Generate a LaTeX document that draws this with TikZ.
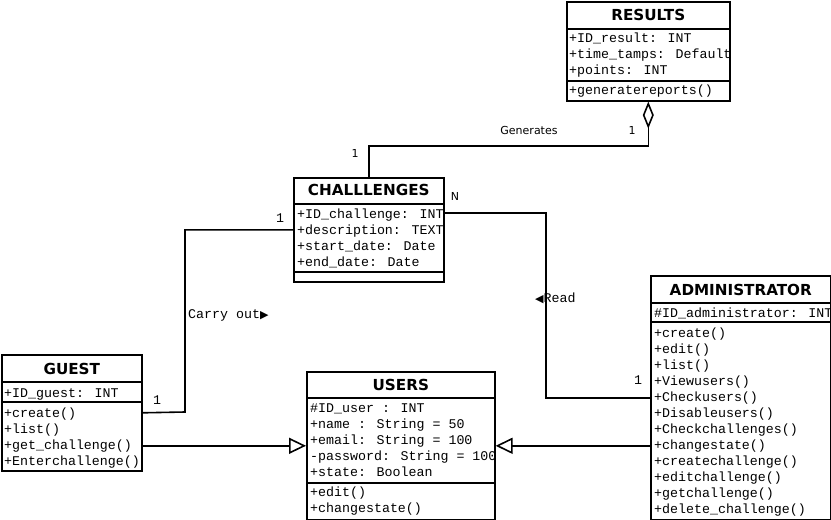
\documentclass[tikz,border=0pt]{standalone}
\usepackage{fontspec}
\setmainfont{DejaVu Sans}
\newfontfamily\monof{Liberation Mono}
\newfontfamily\symf{DejaVu Sans}
\usetikzlibrary{arrows.meta}
\begin{document}
\begin{tikzpicture}[x=1pt,y=-1pt,
  box/.style={draw,line width=1.6pt,fill=white,inner sep=0pt,anchor=north west},
  sep/.style={line width=1.6pt},
  attr/.style={anchor=base west,inner sep=0pt,font=\monof\fontsize{13.3}{16}\selectfont},
  ttl/.style={inner sep=0pt,font=\bfseries\fontsize{15.2}{18}\selectfont},
  lbl/.style={inner sep=0pt,font=\fontsize{11}{13}\selectfont},
  mlbl/.style={inner sep=0pt,font=\monof\fontsize{13.3}{16}\selectfont},
  conn/.style={line width=1.6pt},
  agg/.style={conn,-{Diamond[open,length=27pt,width=11pt]}},
  inh/.style={conn,-{Triangle[open,length=17pt,width=16pt]}},
]
\useasboundingbox (0,0) rectangle (831,520);
\fill[white] (0,0) rectangle (831,520);

% ---------- RESULTS ----------
\node[box,minimum width=163pt,minimum height=99pt] (results) at (566,1) {};
\draw[sep] (results.west |- 0,29) -- (results.east |- 0,29);
\draw[sep] (results.west |- 0,81) -- (results.east |- 0,81);
\node[ttl] (results-t) at (results.north |- 0,15) {RESULTS};
\foreach \t [count=\i] in {+ID\_result: INT,+time\_tamps: Default,+points: INT}
  \node[attr] (results-a\i) at (569,{42+16*(\i-1)}) {\t};
\node[attr] (results-m1) at (569,94) {+generatereports()};

% ---------- CHALLLENGES ----------
\node[box,minimum width=150pt,minimum height=104pt] (chal) at (293,177) {};
\draw[sep] (chal.west |- 0,204) -- (chal.east |- 0,204);
\draw[sep] (chal.west |- 0,272) -- (chal.east |- 0,272);
\node[ttl] (chal-t) at (chal.north |- 0,190) {CHALLLENGES};
\foreach \t [count=\i] in {+ID\_challenge: INT,+description: TEXT,+start\_date: Date,+end\_date: Date}
  \node[attr] (chal-a\i) at (297,{218+16*(\i-1)}) {\t};

% ---------- GUEST ----------
\node[box,minimum width=140pt,minimum height=116pt] (guest) at (1,354) {};
\draw[sep] (guest.west |- 0,382) -- (guest.east |- 0,382);
\draw[sep] (guest.west |- 0,402) -- (guest.east |- 0,402);
\node[ttl] (guest-t) at (guest.north |- 0,369) {GUEST};
\node[attr] (guest-a1) at (4,397) {+ID\_guest: INT};
\foreach \t [count=\i] in {+create(),+list(),+get\_challenge(),+Enterchallenge()}
  \node[attr] (guest-m\i) at (4,{417+16*(\i-1)}) {\t};

% ---------- USERS ----------
\node[box,minimum width=188pt,minimum height=148pt] (users) at (306,371) {};
\draw[sep] (users.west |- 0,398) -- (users.east |- 0,398);
\draw[sep] (users.west |- 0,483) -- (users.east |- 0,483);
\node[ttl] (users-t) at (users.north |- 0,385) {USERS};
\foreach \t [count=\i] in {\#ID\_user : INT,+name : String = 50,+email: String = 100,-password: String = 100,+state: Boolean}
  \node[attr] (users-a\i) at (310,{412+16*(\i-1)}) {\t};
\foreach \t [count=\i] in {+edit(),+changestate()}
  \node[attr] (users-m\i) at (310,{496+16*(\i-1)}) {\t};

% ---------- ADMINISTRATOR ----------
\node[box,minimum width=180pt,minimum height=244pt] (admin) at (650,275) {};
\draw[sep] (admin.west |- 0,303) -- (admin.east |- 0,303);
\draw[sep] (admin.west |- 0,322) -- (admin.east |- 0,322);
\node[ttl] (admin-t) at (admin.north |- 0,290) {ADMINISTRATOR};
\node[attr] (admin-a1) at (654,317) {\#ID\_administrator: INT};
\foreach \t [count=\i] in {+create(),+edit(),+list(),+Viewusers(),+Checkusers(),+Disableusers(),+Checkchallenges(),+changestate(),+createchallenge(),+editchallenge(),+getchallenge(),+delete\_challenge()}
  \node[attr] (admin-m\i) at (654,{337+16*(\i-1)}) {\t};

% ---------- connectors ----------
\coordinate (gen) at (results.south |- 0,146);
\draw[agg] (chal.north) |- (gen) -- (results.south);
\node[lbl] (gen-l) at (529,130) {Generates};
\node[lbl] (gen-m1) at (632,130) {1};
\node[lbl] (gen-m2) at (355,153) {1};

\coordinate (co) at (185,412);
\draw[conn] (guest.east) -- (co) |- (chal.west);
\node[mlbl] (co-m1) at (157,400) {1};
\node[mlbl] (co-m2) at (280,218) {1};
\node[mlbl,anchor=base west] (co-l) at (188,318) {Carry out{\symf\fontsize{11}{11}\selectfont ▶}};

\coordinate (rd) at (546,213);
\draw[conn] (chal.east |- rd) -- (rd) |- (admin.west);
\node[lbl] (rd-n) at (455,196) {N};
\node[mlbl] (rd-m1) at (638,380) {1};
\node[mlbl,anchor=base west] (rd-l) at (535,302) {{\symf\fontsize{11}{11}\selectfont ◀}Read};

\draw[inh] (guest.east |- users.west) -- (users.west);
\draw[inh] (admin.west |- users.east) -- (users.east);
\end{tikzpicture}
\end{document}
